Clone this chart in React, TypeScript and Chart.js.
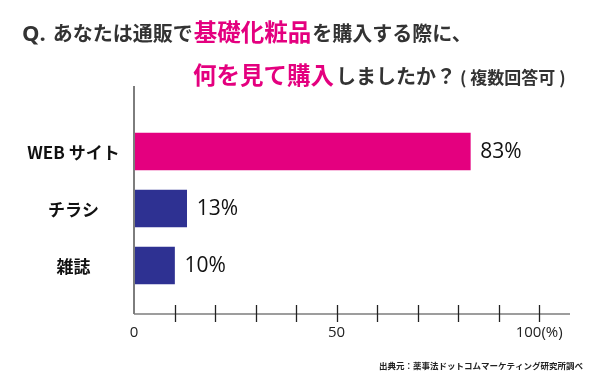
import React, { useEffect, useRef } from 'react';
import { Chart, registerables } from 'chart.js';

Chart.register(...registerables);

const categories = ['WEB サイト', 'チラシ', '雑誌'];
const values = [83, 13, 10];
const barColors = ['#e4007f', '#2e3192', '#2e3192'];
const tickValues = [0, 10, 20, 30, 40, 50, 60, 70, 80, 90, 100];
const tickLabelMap: Record<number, string> = { 0: '0', 50: '50', 100: '100(%)' };
const titleLine1 = ['Q.', 'あなたは通販で', '基礎化粧品', 'を購入する際に、'];
const titleLine2 = ['何を見て購入', 'しましたか？', '( 複数回答可 )'];
const sourceText = '出典元：薬事法ドットコムマーケティング研究所調べ';

const JP = '"Noto Sans CJK JP", "Noto Sans", sans-serif';
const NUM = '"Open Sans", "Noto Sans", sans-serif';
const PINK = '#e4007f';
const DARK = '#333333';

const overlayPlugin = {
  id: 'overlay',
  afterDraw(chart: any) {
    const ctx: CanvasRenderingContext2D = chart.ctx;
    const area = chart.chartArea;
    const xs = chart.scales.x;
    const ys = chart.scales.y;
    const axisY = area.bottom + 20;
    ctx.save();

    // axis lines
    ctx.strokeStyle = '#7d7d7d';
    ctx.lineWidth = 2;
    ctx.beginPath();
    ctx.moveTo(area.left, area.top - 37);
    ctx.lineTo(area.left, axisY);
    ctx.stroke();
    ctx.lineWidth = 1.5;
    ctx.beginPath();
    ctx.moveTo(area.left, axisY);
    ctx.lineTo(area.right, axisY);
    ctx.stroke();

    // tick marks crossing the axis
    ctx.strokeStyle = '#222';
    ctx.lineWidth = 1.3;
    tickValues.forEach((v) => {
      if (v <= 0) return;
      const px = Math.round(xs.getPixelForValue(v)) + 0.5;
      ctx.beginPath();
      ctx.moveTo(px, axisY - 9);
      ctx.lineTo(px, axisY + 8);
      ctx.stroke();
    });

    // category labels
    ctx.fillStyle = '#111';
    ctx.font = `bold 17px ${JP}`;
    ctx.textAlign = 'center';
    ctx.textBaseline = 'middle';
    categories.forEach((c, i) => {
      ctx.fillText(c, area.left - 60.5, ys.getPixelForValue(i) + 1);
    });

    // value labels
    const meta = chart.getDatasetMeta(0);
    ctx.font = `21px ${NUM}`;
    ctx.textAlign = 'left';
    ctx.fillStyle = '#111';
    meta.data.forEach((bar: any, i: number) => {
      ctx.fillText(`${values[i]}%`, bar.x + 10, bar.y + 1);
    });

    // title
    ctx.textBaseline = 'alphabetic';
    const styles1 = [
      { font: `bold 22px ${NUM}`, color: DARK, gap: 7 },
      { font: `bold 20px ${JP}`, color: DARK, gap: 1 },
      { font: `bold 23.5px ${JP}`, color: PINK, gap: 1 },
      { font: `bold 20px ${JP}`, color: DARK, gap: 0 },
    ];
    let x = 22;
    titleLine1.forEach((t, i) => {
      ctx.font = styles1[i].font;
      ctx.fillStyle = styles1[i].color;
      ctx.fillText(t, x, 41);
      x += ctx.measureText(t).width + styles1[i].gap;
    });
    const styles2 = [
      { font: `bold 23.5px ${JP}`, color: PINK, gap: 2 },
      { font: `bold 20px ${JP}`, color: DARK, gap: 4 },
      { font: `bold 17px ${JP}`, color: DARK, gap: 0 },
    ];
    x = 193;
    titleLine2.forEach((t, i) => {
      ctx.font = styles2[i].font;
      ctx.fillStyle = styles2[i].color;
      ctx.fillText(t, x, 84);
      x += ctx.measureText(t).width + styles2[i].gap;
    });

    // source
    ctx.font = `bold 8.5px ${JP}`;
    ctx.fillStyle = '#222';
    ctx.textAlign = 'right';
    ctx.fillText(sourceText, 583, 369);

    ctx.restore();
  },
};

export default function App() {
  const ref = useRef<HTMLCanvasElement | null>(null);
  useEffect(() => {
    if (!ref.current) return;
    const chart = new Chart(ref.current, {
      type: 'bar',
      data: {
        labels: categories,
        datasets: [
          {
            data: values,
            backgroundColor: barColors,
            borderWidth: 0,
            barThickness: 37,
          },
        ],
      },
      options: {
        indexAxis: 'y',
        responsive: false,
        animation: false,
        layout: { padding: { top: 123, left: 0, right: 30, bottom: 0 } },
        plugins: {
          legend: { display: false },
          tooltip: { enabled: false },
          title: { display: false },
        },
        scales: {
          x: {
            type: 'linear',
            min: 0,
            max: 107.6,
            grid: { display: false, drawTicks: false },
            border: { display: false },
            afterBuildTicks: (s: any) => {
              s.ticks = tickValues.map((v) => ({ value: v }));
            },
            afterFit: (s: any) => {
              s.height = 87;
            },
            ticks: {
              autoSkip: false,
              maxRotation: 0,
              padding: 30,
              color: '#222',
              font: { family: NUM, size: 15 },
              callback: (v: any) => tickLabelMap[v as number] ?? '',
            },
          },
          y: {
            type: 'category',
            grid: { display: false, drawTicks: false },
            border: { display: false },
            ticks: { display: false },
            afterFit: (s: any) => {
              s.width = 134;
            },
          },
        },
      },
      plugins: [overlayPlugin],
    });
    return () => chart.destroy();
  }, []);
  return (
    <div style={{ position: 'fixed', left: 0, top: 0, width: 600, height: 381, background: '#fff' }}>
      <canvas ref={ref} width={600} height={381} />
    </div>
  );
}
